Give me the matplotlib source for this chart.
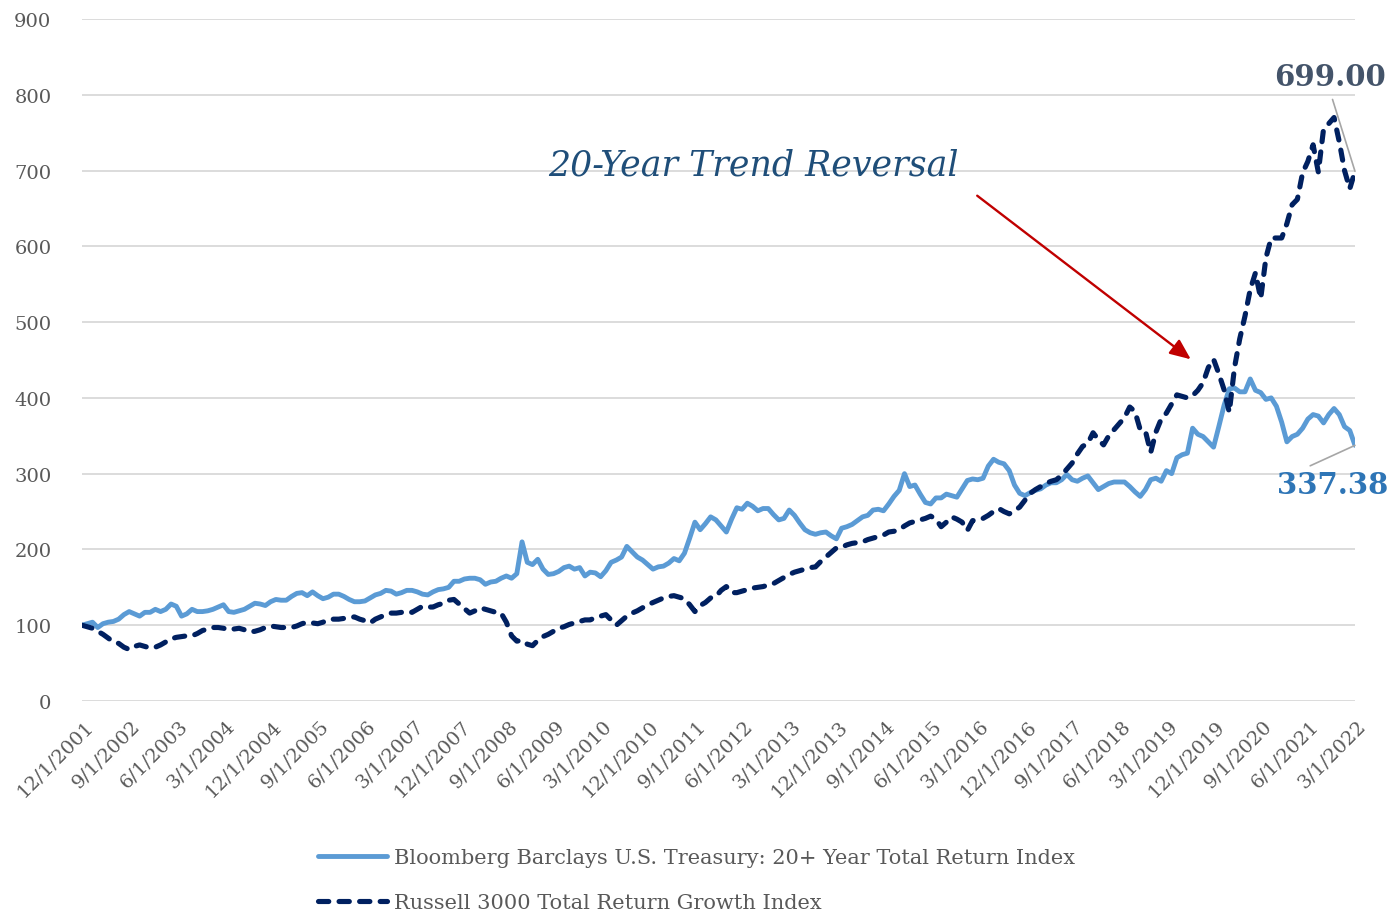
import matplotlib
matplotlib.use("Agg")
import matplotlib.pyplot as plt
import matplotlib.transforms as mtransforms
import pandas as pd

plt.rcParams['font.family'] = ['DejaVu Serif']

# ---------------- data ----------------
months = pd.date_range("2001-12-01", periods=244, freq="MS")
month_labels = [f"{d.month}/1/{d.year}" for d in months]

treasury = [
    100, 102, 104, 97, 102, 104, 105, 108, 114, 118,
    115, 112, 117, 117, 121, 118, 121, 128, 125, 112,
    115, 121, 118, 118, 119, 121, 124, 127, 118, 117,
    119, 121, 125, 129, 128, 126, 131, 134, 133, 133,
    138, 142, 143, 139, 144, 139, 135, 137, 141, 141,
    138, 134, 131, 131, 132, 136, 140, 142, 146, 145,
    141, 143, 146, 146, 144, 141, 140, 144, 147, 148,
    150, 158, 158, 161, 162, 162, 160, 154, 157, 158,
    162, 165, 162, 168, 210, 183, 180, 187, 174, 167,
    168, 171, 176, 178, 174, 176, 165, 170, 169, 164,
    172, 183, 186, 190, 204, 197, 190, 186, 180, 174,
    177, 178, 182, 188, 185, 195, 215, 236, 226, 234,
    243, 239, 231, 223, 240, 255, 253, 261, 257, 251,
    254, 254, 246, 239, 241, 252, 245, 235, 226, 222,
    220, 222, 223, 218, 214, 228, 230, 233, 238, 243,
    245, 252, 253, 251, 260, 270, 278, 300, 283, 285,
    273, 262, 260, 268, 268, 273, 271, 269, 280, 291,
    293, 292, 294, 310, 319, 315, 313, 304, 285, 274,
    271, 275, 278, 280, 285, 288, 288, 292, 299, 292,
    290, 294, 297, 288, 279, 283, 287, 289, 289, 289,
    283, 276, 270, 279, 292, 294, 290, 304, 300, 321,
    325, 327, 360, 352, 349, 342, 335, 362, 390, 412,
    413, 408, 408, 425, 410, 407, 398, 400, 389, 368,
    342, 349, 352, 360, 372, 378, 376, 367, 378, 386,
    378, 362, 357, 337.38,
]

russell = [
    100, 98, 96, 92, 88, 83, 78, 76, 71, 68,
    72, 74, 72, 70, 71, 74, 78, 82, 84, 85,
    86, 86, 89, 93, 95, 97, 97, 96, 94, 95,
    96, 94, 91, 92, 94, 97, 99, 98, 97, 97,
    97, 99, 102, 104, 103, 102, 104, 107, 108, 108,
    109, 110, 111, 108, 106, 103, 108, 111, 114, 116,
    116, 117, 118, 117, 121, 125, 124, 124, 127, 129,
    133, 134, 128, 122, 116, 119, 123, 121, 119, 117,
    116, 104, 86, 79, 80, 75, 73, 80, 85, 88,
    92, 96, 98, 101, 103, 105, 107, 107, 110, 112,
    114, 107, 100, 106, 112, 116, 119, 123, 127, 130,
    133, 136, 138, 139, 137, 135, 127, 118, 126, 130,
    136, 138, 146, 151, 143, 143, 145, 147, 149, 150,
    151, 153, 155, 159, 163, 167, 170, 172, 174, 176,
    177, 184, 190, 196, 202, 203, 206, 208, 209, 210,
    213, 215, 217, 219, 223, 224, 226, 231, 235, 237,
    239, 241, 244, 240, 230, 236, 243, 240, 236, 225,
    238, 239, 241, 245, 250, 254, 250, 247, 251, 256,
    265, 274, 279, 283, 287, 290, 292, 298, 306, 314,
    326, 336, 340, 354, 345, 338, 350, 358, 366, 374,
    388, 382, 358, 356, 328, 355, 372, 380, 392, 404,
    402, 400, 403, 410, 420, 440, 451, 432, 411, 381,
    440, 478, 508, 543, 565, 531, 585, 611, 611, 611,
    630, 655, 662, 697, 712, 734, 698, 755, 762, 770,
    738, 700, 676, 699.00,
]

series_names = [
    "Bloomberg Barclays U.S. Treasury: 20+ Year Total Return Index",
    "Russell 3000 Total Return Growth Index",
]
y_ticks = [0, 100, 200, 300, 400, 500, 600, 700, 800, 900]
tick_step = 9
annotation_text = "20-Year Trend Reversal"

# ---------------- plot ----------------
fig = plt.figure(figsize=(13.91, 9.12), dpi=100)
ax = fig.add_axes([82 / 1391, 1 - 702 / 912, (1355 - 82) / 1391, (702 - 20) / 912])

x = list(range(len(months)))
l1, = ax.plot(x, treasury, color="#5b9bd5", lw=3.5, solid_joinstyle="round",
              solid_capstyle="round", label=series_names[0], zorder=3)
l2, = ax.plot(x, russell, color="#002060", lw=3.7, linestyle=(0, (2.0, 2.0)),
              dash_capstyle="round", dash_joinstyle="round",
              label=series_names[1], zorder=4)

ax.set_xlim(0, len(months) - 1)
ax.set_ylim(0, 900)
ax.set_yticks(y_ticks)
ax.set_yticklabels([str(v) for v in y_ticks])
ax.yaxis.grid(True, color="#d9d9d9", lw=1.3)
ax.set_axisbelow(True)
for s in ax.spines.values():
    s.set_visible(False)
ax.tick_params(axis="both", length=0, labelcolor="#595959")
ax.tick_params(axis="y", pad=22, labelsize=14)

xt = list(range(0, len(months), tick_step))
ax.set_xticks(xt)
ax.set_xticklabels([month_labels[i] for i in xt], rotation=45, ha="right",
                   va="top", rotation_mode="anchor", fontsize=14)
ax.tick_params(axis="x", pad=11)
shift = mtransforms.ScaledTranslation(2 / 100, 0, fig.dpi_scale_trans)
for lab in ax.get_xticklabels():
    lab.set_transform(lab.get_transform() + shift)

# data labels
ax.annotate(f"{russell[-1]:.2f}", xy=(x[-1], russell[-1]), xytext=(-18, 68),
            textcoords="offset points", ha="center", va="center",
            fontsize=21, fontweight="bold", color="#44546a",
            arrowprops=dict(arrowstyle="-", color="#a6a6a6", lw=1.2,
                            relpos=(0.5, 0.0), shrinkA=4, shrinkB=0))
ax.annotate(f"{treasury[-1]:.2f}", xy=(x[-1], treasury[-1]), xytext=(-16, -28),
            textcoords="offset points", ha="center", va="center",
            fontsize=21, fontweight="bold", color="#2e75b6",
            arrowprops=dict(arrowstyle="-", color="#a6a6a6", lw=1.2,
                            relpos=(0.22, 1.0), shrinkA=2, shrinkB=0))

# annotation text and arrow
fig.text(548 / 1391, 1 - 165 / 912, annotation_text, fontsize=25,
         style="italic", color="#1f4e79", ha="left", va="center")
fig.patches.append(matplotlib.patches.FancyArrowPatch(
    (975 / 1391, 1 - 195 / 912), (1193 / 1391, 1 - 362 / 912),
    transform=fig.transFigure, arrowstyle="-|>,head_length=0.7,head_width=0.3",
    mutation_scale=18, color="#c00000", lw=1.7))

fig.legend(handles=[l1, l2], loc="upper left",
           bbox_to_anchor=(318 / 1391, 1 - 849 / 912), frameon=False,
           fontsize=15, handlelength=3.3, handletextpad=0.35,
           labelspacing=1.25, borderpad=0, borderaxespad=0,
           labelcolor="#595959")

fig.savefig("out.png", dpi=100)
